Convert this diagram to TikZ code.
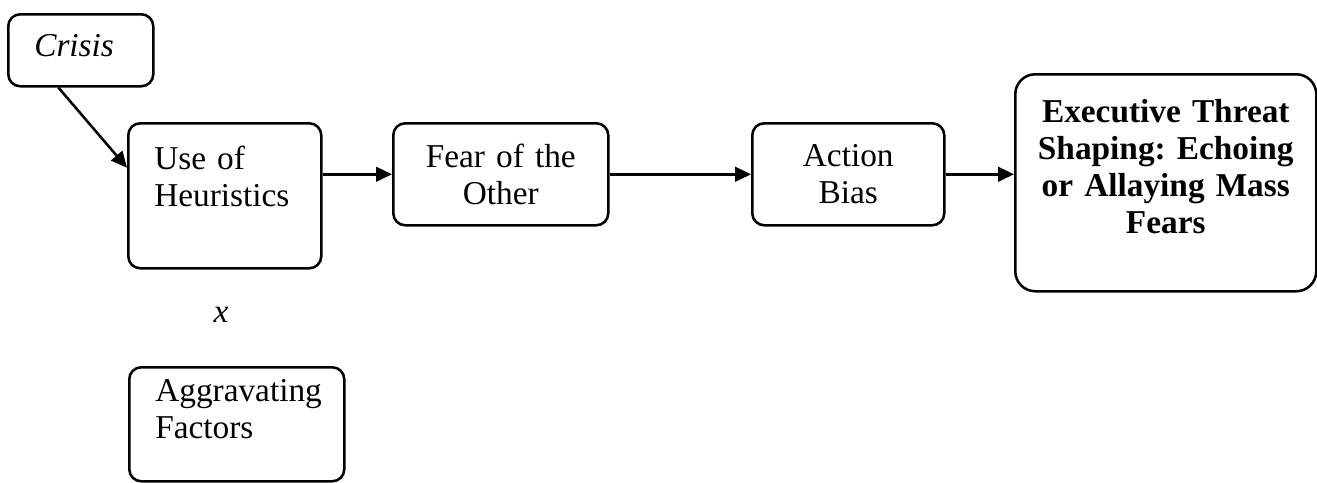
\documentclass[tikz,border=0pt]{standalone}
\usepackage{fontspec}
\setmainfont{Liberation Serif}
\usetikzlibrary{arrows.meta}
\frenchspacing

\tikzset{
  box/.style={draw, line width=1.9pt, rounded corners=9pt, anchor=north west,
    inner xsep=19.5pt, inner ysep=0pt, align=left},
  lift/.style={execute at end node={\par\vspace*{#1}}},
  link/.style={line width=1.9pt, -{Triangle[length=12pt,width=11pt]}}
}

\begin{document}
\begin{tikzpicture}[x=0.75pt, y=-0.75pt, font=\fontsize{25}{27.75}\selectfont]
  \useasboundingbox (0,0) rectangle (1317,482);

  % Define nodes

  \node[box, text width=69.75pt, minimum height=54pt, lift=7pt] (crisis) at (7,13) {\textit{Crisis}};
  \node[box, text width=105.75pt, minimum height=108.75pt, lift=29pt] (heur) at (127,122) {Use of\\Heuristics};
  \node[box, text width=122.25pt, minimum height=76.5pt, align=center] (fear) at (392,122) {Fear of the\\Other};
  \node[box, text width=105pt, minimum height=76.5pt, align=center] (action) at (751,122) {Action\\Bias};
  \node[box, text width=213.75pt, inner xsep=6pt, minimum height=162.75pt, rounded corners=15pt,
    align=center, lift=23.6pt, font=\fontsize{25}{27.75}\selectfont\bfseries] (exec) at (1014,73)
    {Executive Threat\\Shaping: Echoing\\or Allaying Mass\\Fears};
  \node (times) at (221,315) {\textit{x}};
  \node[box, text width=122.25pt, minimum height=85.5pt, lift=22.5pt] (aggr) at (128,366) {Aggravating\\Factors};

  % Connect the nodes
  \draw[link] (crisis.-121) -- (heur.164.6);
  \draw[link] (heur.east |- fear.west) -- (fear.west);
  \draw[link] (fear.east) -- (action.west);
  \draw[link] (action.east) -- (action.east -| exec.west);

\end{tikzpicture}
\end{document}
